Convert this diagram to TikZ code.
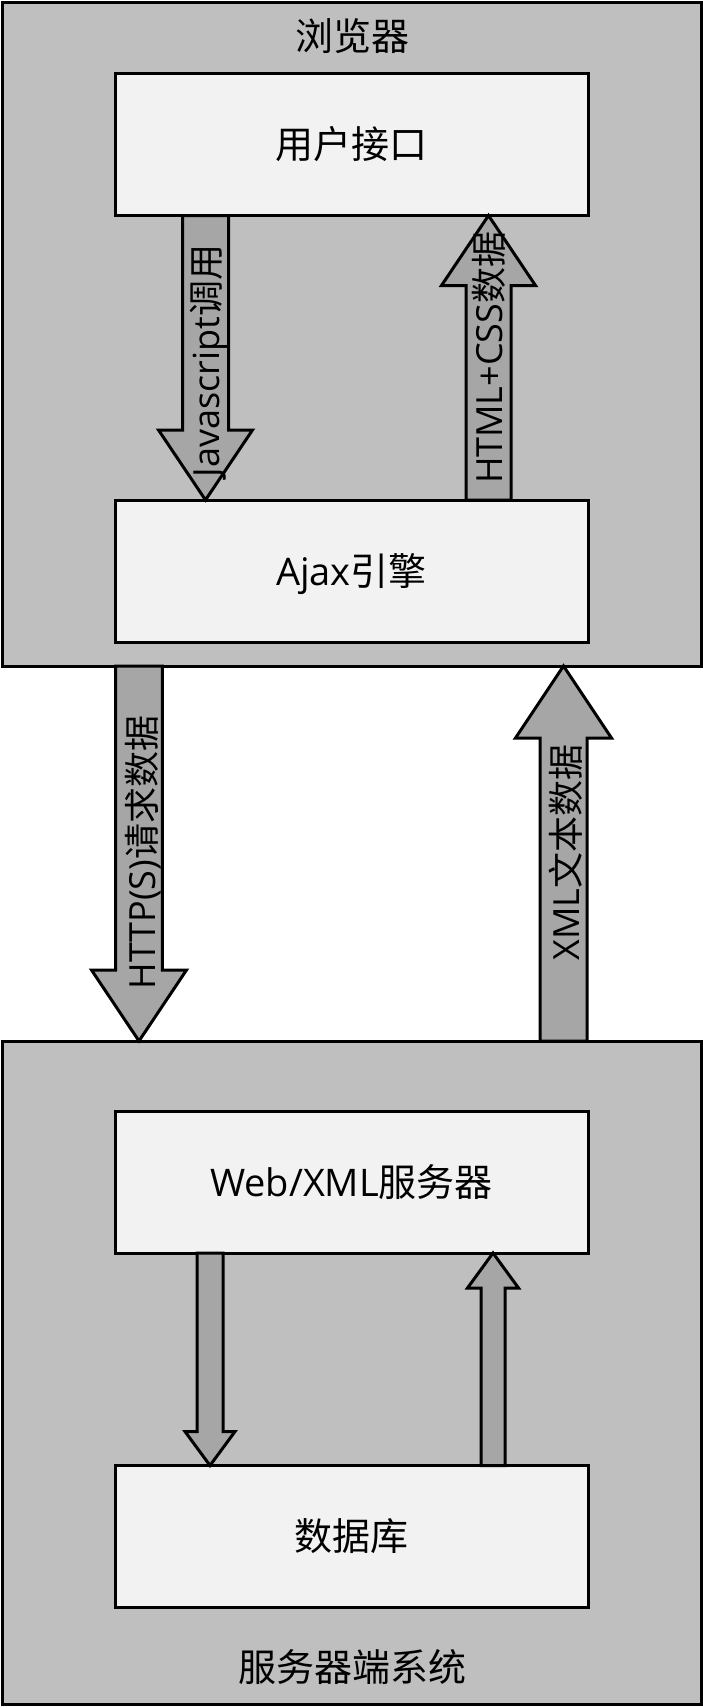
\documentclass[tikz,border=0pt]{standalone}
\usepackage{fontspec}
\setmainfont{Open Sans}
\newfontfamily\cjk{Noto Sans CJK SC}
\usetikzlibrary{calc}
\definecolor{outerfill}{HTML}{BFBFBF}
\definecolor{innerfill}{HTML}{F2F2F2}
\definecolor{arrowfill}{HTML}{A6A6A6}
\tikzset{
  container/.style={draw=black, line width=3pt, fill=outerfill, inner sep=0pt, outer sep=0pt, minimum width=699pt},
  box/.style={draw=black, line width=3pt, fill=innerfill, minimum width=473pt, minimum height=142pt,
    inner sep=0pt, outer sep=0pt, font=\fontsize{38}{44}\selectfont, text height=33pt, text depth=5pt},
  blk/.style={draw=black, line width=3pt, fill=arrowfill, line join=miter},
  lbl/.style={rotate=90, font=\fontsize{36}{42}\selectfont, inner sep=0pt, text height=31pt, text depth=5pt},
  ttl/.style={font=\fontsize{38}{44}\selectfont, inner sep=0pt, text height=33pt, text depth=5pt},
}
% #1 base, #2 tip, #3 half shaft width, #4 half head width, #5 signed head length (+ = tip up)
\newcommand\blockarrow[5]{%
  \draw[blk] ($(#1)+(-#3,0)$) -- ($(#2)+(-#3,#5)$) -- ($(#2)+(-#4,#5)$) -- (#2)
    -- ($(#2)+(#4,#5)$) -- ($(#2)+(#3,#5)$) -- ($(#1)+(#3,0)$) -- cycle;}
\begin{document}
\begin{tikzpicture}[x=1pt,y=-1pt]
\useasboundingbox (0,0) rectangle (703,1708);
\fill[white] (0,0) rectangle (703,1708);

% containers
\node[container, minimum height=664pt] (browser) at (351.5,334) {};
\node[container, minimum height=663pt] (server) at (351.5,1372.5) {};

% titles
\node[ttl] (browserT) at (352,36) {\cjk 浏览器};
\node[ttl] (serverT) at (352,1667) {\cjk 服务器端系统};

% inner boxes
\node[box] (ui) at (351.5,144.5) {\cjk 用户接口};
\node[box] (ajax) at (351.5,571) {Ajax{\cjk 引擎}};
\node[box] (web) at (351.5,1182) {Web/XML{\cjk 服务器}};
\node[box] (db) at (351.5,1536.5) {\cjk 数据库};

% anchor points of the block arrows
\coordinate (jsA) at ($(ui.south west)+(90.5,0)$);
\coordinate (jsB) at ($(ajax.north west)+(90.5,0)$);
\coordinate (htA) at ($(ajax.north west)+(373.5,0)$);
\coordinate (htB) at ($(ui.south west)+(373.5,0)$);
\coordinate (hA) at ($(browser.south west)+(137,0)$);
\coordinate (hB) at ($(server.north west)+(137,0)$);
\coordinate (xA) at ($(server.north west)+(561.5,0)$);
\coordinate (xB) at ($(browser.south west)+(561.5,0)$);
\coordinate (dA) at ($(web.south west)+(95,0)$);
\coordinate (dB) at ($(db.north west)+(95,0)$);
\coordinate (uA) at ($(db.north west)+(378,0)$);
\coordinate (uB) at ($(web.south west)+(378,0)$);

% block arrows
\blockarrow{jsA}{jsB}{23}{47}{-70}
\blockarrow{htA}{htB}{22.5}{47}{70}
\blockarrow{hA}{hB}{23.3}{47.5}{-71}
\blockarrow{xA}{xB}{23.5}{48}{72}
\blockarrow{dA}{dB}{13}{25}{-34}
\blockarrow{uA}{uB}{12}{25.5}{35}

% arrow labels
\node[lbl] (jsL) at ($(jsA)!0.5!(jsB)+(1,3)$) {Javascript{\cjk 调用}};
\node[lbl] (htL) at ($(htA)!0.5!(htB)+(1,0)$) {HTML+CSS{\cjk 数据}};
\node[lbl] (hL) at ($(hA)!0.5!(hB)+(3,-1)$) {HTTP(S){\cjk 请求数据}};
\node[lbl] (xL) at ($(xA)!0.5!(xB)+(3,-1)$) {XML{\cjk 文本数据}};
\end{tikzpicture}
\end{document}
